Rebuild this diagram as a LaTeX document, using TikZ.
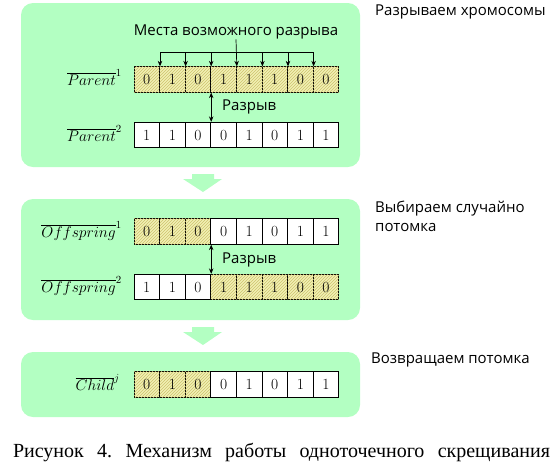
\RequirePackage{fix-cm}
\documentclass[tikz,border=0pt]{standalone}
\usepackage{fontspec}
\newfontfamily\osans{Open Sans}
\newfontfamily\capserif{Liberation Serif}
\usetikzlibrary{patterns,arrows.meta,calc}
\definecolor{boxgreen}{RGB}{179,255,194}
\definecolor{hatchbg}{RGB}{242,240,180}
\definecolor{hatchline}{RGB}{205,195,110}
\newcommand{\chromrow}[5]{%
  \foreach \b [count=\i] in {#3} {
    \pgfmathtruncatemacro{\hh}{(\i>=#4)&&(\i<=#5)}
    \ifnum\hh=1
      \node[hcell] (#1-\i) at ({134+25.6*(\i-0.5)},#2) {\b};
    \else
      \node[cell] (#1-\i) at ({134+25.6*(\i-0.5)},#2) {\b};
    \fi
  }}
\begin{document}
\frenchspacing
\begin{tikzpicture}[x=1pt,y=-1pt,
  bg/.style={fill=boxgreen, draw=none, rounded corners=12pt},
  cell/.style={draw=black, fill=white, line width=0.8pt, minimum width=25.6pt, minimum height=25.5pt, inner sep=0pt, font=\fontsize{15.5}{18}\selectfont},
  hcell/.style={cell, fill=hatchbg, postaction={pattern=north east lines, pattern color=hatchline}},
  lbl/.style={font=\osans\fontsize{15}{18}\selectfont, inner sep=0pt},
  mlbl/.style={font=\fontsize{15.5}{18}\selectfont, inner sep=0pt, anchor=base east},
  arr/.style={-{Stealth[length=5.5pt,width=4.5pt]}, line width=0.7pt},
  darr/.style={{Stealth[length=5.5pt,width=4.5pt]}-{Stealth[length=5.5pt,width=4.5pt]}, line width=0.7pt},
  garrow/.style={fill=boxgreen, draw=none}
]
\useasboundingbox (0,0) rectangle (559,467);
% background boxes
\fill[bg] (21,3) rectangle (360,167);
\fill[bg] (21,199) rectangle (360,320);
\fill[bg] (21,352) rectangle (360,417);
% block arrows
\fill[garrow] (192,174) -- (214,174) -- (214,179) -- (222,179) -- (203,192) -- (183,179) -- (192,179) -- cycle;
\fill[garrow] (192,327) -- (214,327) -- (214,332) -- (222,332) -- (203,345) -- (183,332) -- (192,332) -- cycle;
% rows
\chromrow{p1}{79.5}{0,1,0,1,1,1,0,0}{1}{8}
\chromrow{p2}{135}{1,1,0,0,1,0,1,1}{9}{9}
\chromrow{o1}{231.5}{0,1,0,0,1,0,1,1}{1}{3}
\chromrow{o2}{287}{1,1,0,1,1,1,0,0}{4}{8}
\chromrow{c}{384.5}{0,1,0,0,1,0,1,1}{1}{3}
% math labels
\node[mlbl] (lp1) at (122,85) {$\overline{Parent}^1$};
\node[mlbl] (lp2) at (122,141) {$\overline{Parent}^2$};
\node[mlbl] (lo1) at (122,237) {$\overline{Offspring}^1$};
\node[mlbl] (lo2) at (122,292) {$\overline{Offspring}^2$};
\node[mlbl] (lc) at (120,390) {$\overline{Child}^j$};
% break places
\node[lbl] (mesta) at (236,32) {Места возможного разрыва};
\coordinate (bl) at ($(p1-1.north east)+(0,-14)$);
\coordinate (br) at ($(p1-7.north east)+(0,-14)$);
\draw[line width=0.7pt] (bl) -- (br);
\foreach \i in {1,2,3,5,6,7} {
  \draw[arr] (p1-\i.north east |- bl) -- (p1-\i.north east);
}
\draw[arr] (mesta.south) -- (p1-4.north east);
% break arrows
\draw[darr] (p1-3.south east) -- (p2-3.north east);
\node[lbl, anchor=west] (raz1) at (222,107) {Разрыв};
\draw[darr] (o1-3.south east) -- (o2-3.north east);
\node[lbl, anchor=west] (raz2) at (222,260) {Разрыв};
% side labels
\node[lbl, anchor=west] (s1) at (375,12) {Разрываем хромосомы};
\node[lbl, anchor=west, align=left] (s2) at (375,216.5) {Выбираем случайно\\[1pt]потомка};
\node[lbl, anchor=west] (s3) at (371,360) {Возвращаем потомка};
% caption
\node[inner sep=0pt, anchor=base, font=\capserif\fontsize{20}{24}\selectfont] (cap) at (281.5,457)
  {\makebox[537pt][s]{Рисунок 4. Механизм работы одноточечного скрещивания}};
\end{tikzpicture}
\end{document}
